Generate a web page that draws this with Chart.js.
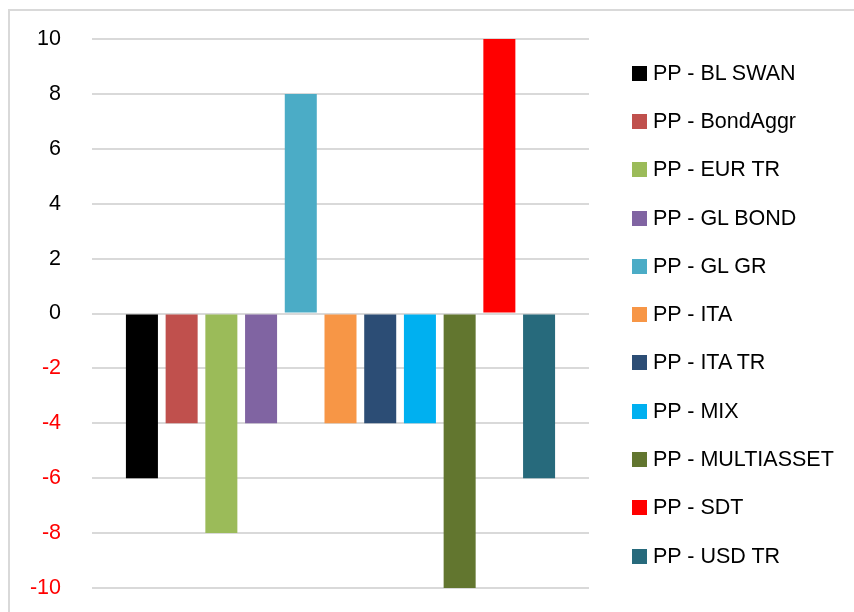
<!DOCTYPE html>
<html>
<head>
<meta charset="utf-8">
<script src="https://cdn.jsdelivr.net/npm/chart.js@4.4.1/dist/chart.umd.min.js"></script>
<style>
  html, body { margin: 0; padding: 0; background: #ffffff; overflow: hidden; }
  #frame {
    position: absolute; left: 8px; top: 9px; width: 900px; height: 700px;
    border: 2px solid #d9d9d9; box-sizing: border-box;
  }
  #wrap { position: absolute; left: 0; top: 0; width: 854px; height: 612px; }
  #legend {
    position: absolute; left: 632px; top: 49px; margin: 0; padding: 0;
    list-style: none; font-family: "Liberation Sans", Arial, sans-serif;
    font-size: 21.5px; color: #000000;
  }
  #legend li { display: flex; align-items: center; height: 48.3px; white-space: nowrap; }
  #legend .box { display: inline-block; width: 15px; height: 15px; margin-right: 6px; }
</style>
</head>
<body>
<div id="frame"></div>
<div id="wrap"><canvas id="chart" width="854" height="612"></canvas></div>
<ul id="legend"></ul>
<script>
// Series shown on the chart, one bar each
const seriesNames = [
  'PP - BL SWAN', 'PP - BondAggr', 'PP - EUR TR', 'PP - GL BOND', 'PP - GL GR',
  'PP - ITA', 'PP - ITA TR', 'PP - MIX', 'PP - MULTIASSET', 'PP - SDT', 'PP - USD TR'
];
const seriesValues = [-6, -4, -8, -4, 8, -4, -4, -4, -10, 10, -6];
const categories = [''];
const yTicks = [-10, -8, -6, -4, -2, 0, 2, 4, 6, 8, 10];

// Palette
const seriesColors = [
  '#000000', '#C0504D', '#9BBB59', '#8064A2', '#4BACC6',
  '#F79646', '#2C4D75', '#00B0F0', '#62762F', '#FF0000', '#276A7C'
];

const FONT = '"Liberation Sans", Arial, sans-serif';

const datasets = seriesNames.map((name, i) => ({
  label: name,
  data: [seriesValues[i]],
  backgroundColor: seriesColors[i],
  borderWidth: 0,
  categoryPercentage: 0.879,
  barPercentage: 0.806
}));

// Legend rendered as an HTML list from the chart's own legend items
const htmlLegend = {
  id: 'htmlLegend',
  afterUpdate(chart) {
    const list = document.getElementById('legend');
    list.innerHTML = '';
    const items = chart.options.plugins.legend.labels.generateLabels(chart);
    items.forEach((item) => {
      const li = document.createElement('li');
      const box = document.createElement('span');
      box.className = 'box';
      box.style.background = item.fillStyle;
      const text = document.createElement('span');
      text.textContent = item.text;
      li.appendChild(box);
      li.appendChild(text);
      list.appendChild(li);
    });
  }
};

new Chart(document.getElementById('chart'), {
  type: 'bar',
  data: { labels: categories, datasets },
  plugins: [htmlLegend],
  options: {
    responsive: false,
    animation: false,
    devicePixelRatio: 1,
    layout: { padding: { left: 10, top: 39, bottom: 24, right: 265 } },
    plugins: {
      tooltip: { enabled: false },
      legend: { display: false }
    },
    scales: {
      x: { display: false },
      y: {
        min: -10, max: 10,
        afterBuildTicks: (scale) => { scale.ticks = yTicks.map(v => ({ value: v })); },
        afterFit: (scale) => { scale.width = 82; },
        border: { display: false },
        // invisible tick marks keep the labels clear of the grid lines
        grid: { color: '#d9d9d9', lineWidth: 2, drawTicks: true, tickLength: 31, tickColor: 'rgba(0,0,0,0)' },
        ticks: {
          padding: 0,
          font: { family: FONT, size: 21.5 },
          color: (ctx) => (ctx.tick && ctx.tick.value < 0 ? '#FF0000' : '#000000')
        }
      }
    }
  }
});
</script>
</body>
</html>
